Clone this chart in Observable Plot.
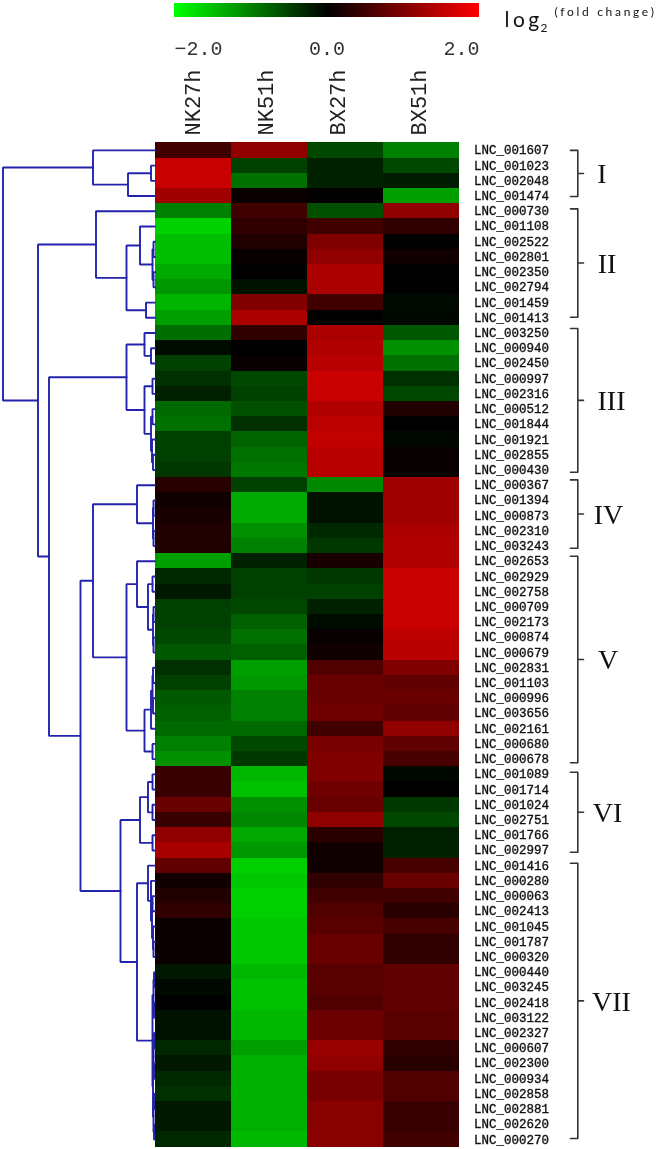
<!DOCTYPE html>
<html>
<head>
<meta charset="utf-8">
<script src="https://cdn.jsdelivr.net/npm/d3@7"></script>
<script src="https://cdn.jsdelivr.net/npm/@observablehq/plot@0.6"></script>
<style>
html,body{margin:0;padding:0;background:#fff;overflow:hidden}
#chart svg{display:block;filter:blur(0.4px)}
</style>
</head>
<body>
<div id="chart"></div>
<script>
const samples = ["NK27h","NK51h","BX27h","BX51h"];
const genes = ["LNC_001607","LNC_001023","LNC_002048","LNC_001474","LNC_000730","LNC_001108","LNC_002522","LNC_002801","LNC_002350","LNC_002794","LNC_001459","LNC_001413","LNC_003250","LNC_000940","LNC_002450","LNC_000997","LNC_002316","LNC_000512","LNC_001844","LNC_001921","LNC_002855","LNC_000430","LNC_000367","LNC_001394","LNC_000873","LNC_002310","LNC_003243","LNC_002653","LNC_002929","LNC_002758","LNC_000709","LNC_002173","LNC_000874","LNC_000679","LNC_002831","LNC_001103","LNC_000996","LNC_003656","LNC_002161","LNC_000680","LNC_000678","LNC_001089","LNC_001714","LNC_001024","LNC_002751","LNC_001766","LNC_002997","LNC_001416","LNC_000280","LNC_000063","LNC_002413","LNC_001045","LNC_001787","LNC_000320","LNC_000440","LNC_003245","LNC_002418","LNC_003122","LNC_002327","LNC_000607","LNC_002300","LNC_000934","LNC_002858","LNC_002881","LNC_002620","LNC_000270"];
const nk27 = [.50,1.57,1.57,1.25,-1.00,-1.65,-1.49,-1.49,-1.33,-1.18,-1.41,-1.25,-.86,-.09,-.50,-.38,-.25,-.82,-.88,-.50,-.50,-.44,.31,.13,.19,.25,.25,-1.25,-.31,-.19,-.50,-.50,-.56,-.69,-.38,-.50,-.69,-.75,-.82,-1.00,-1.13,.44,.44,.82,.44,1.13,1.32,.75,.13,.25,.38,.09,.09,.09,-.19,-.06,0,-.13,-.13,-.31,-.19,-.31,-.38,-.19,-.19,-.31];
const nk51 = [1.13,-.50,-.88,.08,.50,.38,.25,.06,0,-.13,1.00,1.33,.38,0,.06,-.56,-.50,-.63,-.38,-.78,-.88,-.94,-.50,-1.33,-1.33,-1.13,-1.00,-.25,-.50,-.50,-.56,-.75,-.88,-.75,-1.25,-1.19,-1.00,-1.00,-.82,-.56,-.44,-1.44,-1.51,-1.13,-1.07,-1.32,-1.19,-1.63,-1.57,-1.63,-1.63,-1.57,-1.57,-1.57,-1.44,-1.51,-1.51,-1.44,-1.44,-1.25,-1.38,-1.38,-1.38,-1.38,-1.38,-1.44];
const bx27 = [-.56,-.25,-.25,0,-.63,.50,1.00,1.13,1.33,1.33,.50,0,1.33,1.38,1.44,1.57,1.57,1.38,1.46,1.51,1.44,1.44,-1.07,-.13,-.13,-.31,-.44,.19,-.44,-.50,-.25,-.09,.06,.13,.63,.82,.82,.88,.50,.94,1.00,1.00,.88,.82,1.13,.31,.13,.13,.38,.50,.63,.69,.82,.82,.69,.69,.63,.85,.85,1.19,1.13,.94,.94,1.07,1.07,1.07];
const bx51 = [-1.00,-.56,-.22,-1.25,1.13,.38,0,.13,0,0,-.08,-.06,-.69,-1.13,-.88,-.38,-.56,.25,0,-.06,.06,.06,1.25,1.25,1.25,1.33,1.38,1.38,1.57,1.57,1.57,1.57,1.47,1.44,1.00,.75,.82,.75,1.13,.75,.56,-.06,0,-.44,-.56,-.25,-.25,.56,.82,.50,.31,.56,.38,.38,.75,.75,.75,.69,.69,.38,.31,.63,.63,.44,.44,.50];
const series = [nk27, nk51, bx27, bx51];
const clusterNames = ["I","II","III","IV","V","VI","VII"];
const bracketTop = [.5,4.34,12.2,22.15,27.17,41.36,47.34];
const bracketBottom = [3.53,11.46,21.65,26.64,40.74,46.62,65.43];
const clusterLabelPx = [601.5,606.5,611,608,607.5,607,611];
const sampleNudgePx = [0,-3,-7,-2];
// merge tree: [distance, branchA, branchB]; a number is a row of the table
const tree = [152,
  [62, 0, [27, [4, 1, 2], 3]],
  [117,
    [59, 4, [28.5, [15, 5, [2.5, [1.5, 6, 7], [1.5, 8, 9]]], [9, 10, 11]]],
    [106,
      [28.5,
        [10.5, 12, [4, 13, 14]],
        [10.5, [2.5, 15, 16], [4, [2.5, 17, 18], [3, 19, [2, 20, 21]]]]],
      [74.5,
        [62,
          [18, 22, [2, [1.5, 23, 24], [1.5, 25, 26]]],
          [28.5,
            [18, 27, [7, [2.5, 28, 29], [2, [1.5, 30, 31], [1.5, 32, 33]]]],
            [10.5, [4, [2.5, [2, 34, 35], [2, 36, 37]], 38], [2.5, 39, 40]]]],
        [34.5,
          [15, [7, [2.5, 41, 42], [2.5, 43, 44]], [2.5, 45, 46]],
          [18,
            [7, 47, [4, 48, [3, [2.5, 49, 50], [2, 51, [1.5, 52, 53]]]]],
            [2.5,
              [1.5, [1, 54, 55], [1, 56, 57]],
              [2, [1.5, [1, 58, 59], [1, 60, 61]], [1.5, [1, 62, 63], [1, 64, 65]]]]]]]]]];

const cells = genes.flatMap((g, r) => samples.map((s, c) => ({g, s, r, c, v: series[c][r]})));
const pxPerCol = 76, pxPerRow = 15.218, heatLeft = 154.5, heatTop = 142.3;
const W = 659, H = 1149;
const colX = px => (px - heatLeft) / pxPerCol;
const rowY = px => (px - heatTop) / pxPerRow;

const elbows = [];
let id = 0;
function walk(n) {
  if (typeof n === "number") return {h: 0, y: n + .5};
  const a = walk(n[1]), b = walk(n[2]), k = id++;
  const x = h => -h / pxPerCol;
  elbows.push({k, x: x(a.h), y: a.y}, {k, x: x(n[0]), y: a.y}, {k, x: x(n[0]), y: b.y}, {k, x: x(b.h), y: b.y});
  return {h: n[0], y: (a.y + b.y) / 2};
}
walk(tree);

const brackets = clusterNames.flatMap((name, i) => {
  const t = bracketTop[i], b = bracketBottom[i], m = (t + b) / 2;
  const x0 = colX(570), x1 = colX(577.3), x2 = colX(583);
  return [[x0,t],[x1,t],[x1,m],[x2,m],[x1,m],[x1,b],[x0,b]].map(([x,y]) => ({name, x, y}));
});
const romans = clusterNames.map((name, i) => ({name, x: colX(clusterLabelPx[i]), y: (bracketTop[i] + bracketBottom[i]) / 2}));
const steps = d3.range(153).map(i => -2 + 4 * i / 153);
const barX = v => colX(174 + (v + 2) / 4 * 305);
const tickFont = {y: rowY(48), fontFamily: "Liberation Mono", fontSize: 20, fill: "#333"};
const tickText = d => d.toFixed(1).replace("-", "\u2212");

const plot = Plot.plot({
  width: W, height: H,
  margin: 0, marginTop: 0, marginBottom: 0, marginLeft: 0, marginRight: 0,
  x: {type: "linear", domain: [colX(0), colX(W)], range: [0, W], axis: null},
  y: {type: "linear", domain: [rowY(0), rowY(H)], range: [0, H], axis: null},
  color: {type: "linear", domain: [-2, 0, 2], range: ["#00ff00", "#000000", "#ff0000"], interpolate: "rgb"},
  style: {background: "#fff"},
  marks: [
    Plot.rect(cells, {x1: d => d.c, x2: d => d.c + 1, y1: d => d.r, y2: d => d.r + 1, fill: "v", shapeRendering: "crispEdges"}),
    Plot.line(elbows, {x: "x", y: "y", z: "k", stroke: "#2323ab", strokeWidth: 1.9, strokeLinejoin: "miter", curve: "linear"}),
    Plot.text(genes, {x: colX(473.5), y: (d, i) => i + .5, text: d => d, textAnchor: "start", fontFamily: "Liberation Mono", fontSize: 12.5, fill: "#111", stroke: "#111", strokeWidth: 0.35}),
    Plot.line(brackets, {x: "x", y: "y", z: "name", stroke: "#333", strokeWidth: 1.6, curve: "linear"}),
    Plot.text(romans, {x: "x", y: "y", text: "name", textAnchor: "middle", fontFamily: "Liberation Serif", fontSize: 28, fill: "#111", dy: 1}),
    Plot.text(samples, {x: (d, i) => i + .5 + sampleNudgePx[i] / pxPerCol, y: rowY(135), text: d => d, rotate: -90, textAnchor: "start", fontFamily: "Liberation Mono", fontSize: 22, fill: "#222"}),
    Plot.rect(steps, {x1: barX, x2: d => barX(d + 4 / 153) + .004, y1: rowY(2.5), y2: rowY(17), fill: d => d, shapeRendering: "crispEdges"}),
    Plot.text([-2], {x: barX, text: tickText, textAnchor: "start", ...tickFont}),
    Plot.text([0], {x: barX, text: tickText, textAnchor: "middle", ...tickFont}),
    Plot.text([2], {x: barX, text: tickText, textAnchor: "end", ...tickFont}),
    Plot.text(["log"], {x: colX(504), y: rowY(20), text: d => d, textAnchor: "start", fontFamily: "Lato", fontSize: 21, fill: "#111"}),
    Plot.text(["2"], {x: colX(540), y: rowY(28), text: d => d, textAnchor: "start", fontFamily: "Lato", fontSize: 12, fill: "#111"}),
    Plot.text(["(fold change)"], {x: colX(554), y: rowY(12), text: d => d, textAnchor: "start", fontFamily: "Lato", fontSize: 12, fill: "#111"})
  ]
});
plot.querySelectorAll("text").forEach(t => {
  if (t.textContent === "log") t.style.letterSpacing = "3.5px";
  if (t.textContent === "(fold change)") t.style.letterSpacing = "2.7px";
});
document.getElementById("chart").append(plot);
</script>
</body>
</html>
